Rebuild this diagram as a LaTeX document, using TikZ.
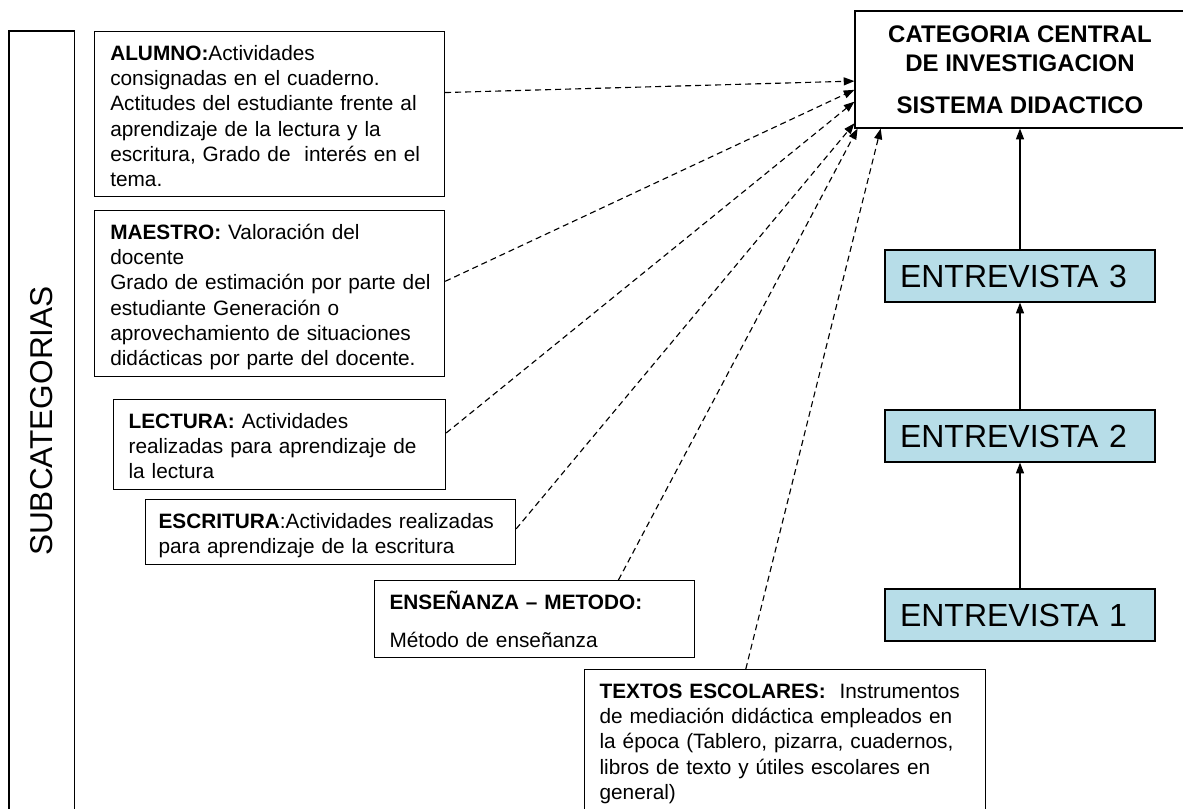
\documentclass[tikz,border=0pt]{standalone}
\usepackage{fontspec}
\setmainfont{Liberation Sans}
\usetikzlibrary{arrows.meta}
\definecolor{celeste}{HTML}{B7DDE8}
\tikzset{
  sub/.style={draw, line width=0.9pt, align=left, anchor=north west,
    inner xsep=11.25pt, inner ysep=0pt, text height=21.4pt,
    font=\fontsize{15.6}{19}\selectfont},
  entrevista/.style={draw, line width=0.9pt, fill=celeste, align=left,
    inner xsep=11.25pt, text width=180pt, minimum height=39pt,
    font=\fontsize{24}{28}\selectfont},
  link/.style={->, line width=0.85pt, dash pattern=on 4.5pt off 3pt},
}
\begin{document}
\begin{tikzpicture}[x=0.75pt,y=-0.75pt,>={Triangle[length=8pt,width=6pt]}]
\useasboundingbox (0,0) rectangle (1183,808);
\node[draw, line width=0.9pt, rotate=90, minimum width=585pt, minimum height=49pt,
  font=\fontsize{23.7}{28}\selectfont] (subcat) at (41.75,421) {SUBCATEGORIAS};
\node[sub, inner xsep=11.75pt, text width=239pt, text depth=102.35pt] (alumno) at (94,31)
  {\textbf{ALUMNO:}Actividades\\consignadas en el cuaderno.\\\mbox{Actitudes del estudiante frente al}\\aprendizaje de la lectura y la\\\mbox{escritura, Grado de\ \ interés en el}\\tema.};
\node[sub, inner xsep=11.75pt, text width=239pt, text depth=103.1pt] (maestro) at (94,210)
  {\textbf{MAESTRO:} Valoración del\\docente\\\mbox{Grado de estimación por parte del}\\estudiante Generación o\\aprovechamiento de situaciones\\\mbox{didácticas por parte del docente.}};
\node[sub, text width=226.5pt, text depth=46.1pt] (lectura) at (113,399)
  {\textbf{LECTURA:} Actividades\\realizadas para aprendizaje de\\la lectura};
\node[sub, inner xsep=9.75pt, text width=258pt, text depth=27.35pt] (escritura) at (145,499)
  {\mbox{\textbf{ESCRITURA}:Actividades realizadas}\\para aprendizaje de la escritura};
\node[sub, text width=217.5pt, text depth=36.35pt] (ensenanza) at (374,580)
  {\textbf{ENSEÑANZA – METODO:}\\[9.5pt]Método de enseñanza};
\node[sub, text width=278.25pt, text depth=98.6pt] (textos) at (584,669)
  {\textbf{TEXTOS ESCOLARES:}\ \ Instrumentos\\de mediación didáctica empleados en\\la época (Tablero, pizarra, cuadernos,\\libros de texto y útiles escolares en\\general)};
\node[draw, line width=0.9pt, align=center, minimum width=247.5pt, minimum height=87.75pt,
  font=\bfseries\fontsize{18}{21.75}\selectfont] (central) at (1020,69.5)
  {CATEGORIA CENTRAL\\DE INVESTIGACION\\[9.75pt]SISTEMA DIDACTICO};
\node[entrevista] (e3) at (1020,276) {ENTREVISTA 3};
\node[entrevista] (e2) at (1020,436) {ENTREVISTA 2};
\node[entrevista] (e1) at (1020,615) {ENTREVISTA 1};
\draw[->, line width=0.85pt] (e1) -- (e2);
\draw[->, line width=0.85pt] (e2) -- (e3);
\draw[->, line width=0.85pt] (e3) -- (central);
\draw[link] (alumno.7.65) -- (central.184.3);
\draw[link] (maestro.4.57) -- (central.187.9);
\draw[link] (lectura.4.8) -- (central.191.5);
\draw[link] (escritura.1.1) -- (central.198);
\draw[link] (ensenanza.25.4) -- (central.200.1);
\draw[link] (textos.116.3) -- (central.203.6);
\end{tikzpicture}
\end{document}
